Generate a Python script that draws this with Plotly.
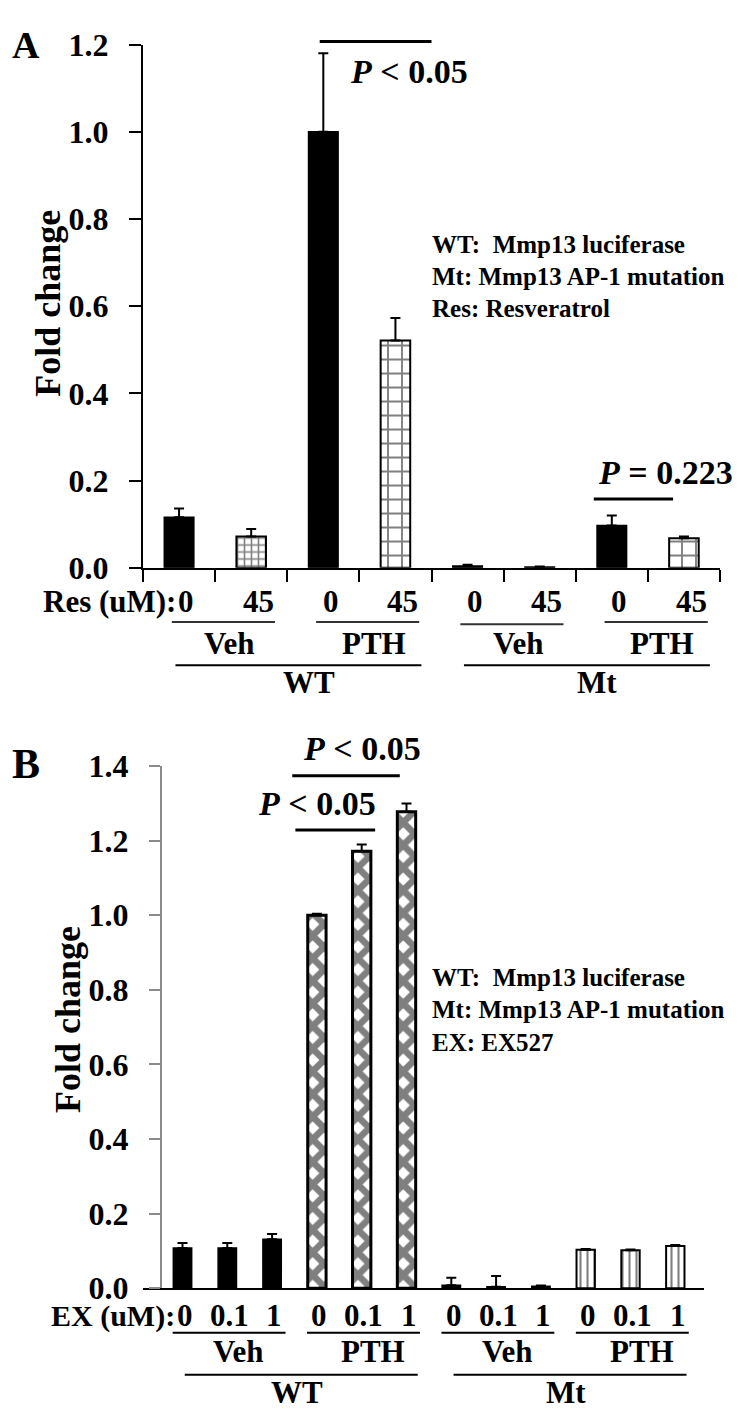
import plotly.graph_objects as go

W, H = 750, 1409
FONT = "Liberation Serif"

# ---------------- data ----------------
# Panel A
a_res = ["0", "45", "0", "45", "0", "45", "0", "45"]
a_vals = [0.116, 0.072, 1.0, 0.521, 0.004, 0.002, 0.097, 0.068]
a_err = [0.020, 0.017, 0.180, 0.052, 0.003, 0.001, 0.023, 0.004]
a_treat = ["Veh", "PTH", "Veh", "PTH"]
a_const = ["WT", "Mt"]
a_yticks = [0.0, 0.2, 0.4, 0.6, 0.8, 1.0, 1.2]
a_legend = ["WT:  Mmp13 luciferase", "Mt: Mmp13 AP-1 mutation", "Res: Resveratrol"]

# Panel B
b_ex = ["0", "0.1", "1", "0", "0.1", "1", "0", "0.1", "1", "0", "0.1", "1"]
b_vals = [0.108, 0.108, 0.131, 1.0, 1.171, 1.277, 0.008, 0.004, 0.005, 0.103, 0.102, 0.113]
b_err = [0.013, 0.013, 0.014, 0.004, 0.018, 0.022, 0.020, 0.029, 0.002, 0.002, 0.002, 0.003]
b_treat = ["Veh", "PTH", "Veh", "PTH"]
b_const = ["WT", "Mt"]
b_yticks = [0.0, 0.2, 0.4, 0.6, 0.8, 1.0, 1.2, 1.4]
b_legend = ["WT:  Mmp13 luciferase", "Mt: Mmp13 AP-1 mutation", "EX: EX527"]


def py(y):
    return 1 - y / H


def pxx(x):
    return x / W


fig = go.Figure()
BW = 0.41

# ---------- Panel A bars ----------
a_styles = ["solid", "grid", "solid", "grid", "solid", "solid", "solid", "grid"]
a_size = [0, 7, 0, 14, 0, 0, 0, 14]
a_sol = [0, 0.4, 0, 0.25, 0, 0, 0, 0.25]
for style in ["solid", "grid"]:
    idx = [i for i, s in enumerate(a_styles) if s == style]
    if style == "solid":
        marker = dict(color="black", line=dict(color="black", width=1.5))
    else:
        marker = dict(color="white", line=dict(color="black", width=2),
                      pattern=dict(shape="+", fgcolor="black", bgcolor="white",
                                   size=[a_size[i] for i in idx],
                                   solidity=[a_sol[i] for i in idx]))
    fig.add_trace(go.Bar(
        x=idx, y=[a_vals[i] for i in idx], width=BW, marker=marker,
        error_y=dict(type="data", symmetric=False, array=[a_err[i] for i in idx],
                     arrayminus=[0] * len(idx), color="black", thickness=2, width=5),
        xaxis="x", yaxis="y", showlegend=False))

# ---------- Panel B bars ----------
b_styles = ["solid"] * 3 + ["diamond"] * 3 + ["solid"] * 3 + ["lines"] * 3
for style in ["solid", "diamond", "lines"]:
    idx = [i for i, s in enumerate(b_styles) if s == style]
    if style == "solid":
        marker = dict(color="black", line=dict(color="black", width=1.5))
    elif style == "diamond":
        marker = dict(color="white", line=dict(color="black", width=3),
                      pattern=dict(shape="x", fgcolor="black", bgcolor="white",
                                   size=16, solidity=0.66))
    else:
        marker = dict(color="white", line=dict(color="black", width=2),
                      pattern=dict(shape="|", fgcolor="black", bgcolor="white",
                                   size=7, solidity=0.3))
    fig.add_trace(go.Bar(
        x=idx, y=[b_vals[i] for i in idx], width=BW, marker=marker,
        error_y=dict(type="data", symmetric=False, array=[b_err[i] for i in idx],
                     arrayminus=[0] * len(idx), color="black", thickness=2, width=5),
        xaxis="x2", yaxis="y2", showlegend=False))

tickfont = dict(family=FONT, size=32, color="black", weight="bold")

fig.update_layout(
    width=W, height=H, margin=dict(l=0, r=0, t=0, b=0),
    paper_bgcolor="white", plot_bgcolor="white", barmode="overlay",
    showlegend=False,
    xaxis=dict(domain=[pxx(135), pxx(712)], range=[-0.5, len(a_vals) - 0.5],
               anchor="y", showline=True, linecolor="black", linewidth=2,
               tickmode="array", tickvals=[i - 0.5 for i in range(len(a_vals) + 1)],
               ticks="outside", ticklen=12, tickwidth=2, tickcolor="black",
               showticklabels=False, showgrid=False, zeroline=False),
    yaxis=dict(domain=[py(556), py(19)], range=[0, 1.2], anchor="x",
               showline=True, linecolor="black", linewidth=2,
               tickmode="array", tickvals=a_yticks, ticktext=[f"{v:.1f}" for v in a_yticks],
               ticks="outside", ticklen=12, tickwidth=2, tickcolor="black",
               tickfont=tickfont, ticklabelstandoff=14,
               showgrid=False, zeroline=False),
    xaxis2=dict(domain=[pxx(135), pxx(696)], range=[(135 - 174.5) / 44.8, (696 - 174.5) / 44.8],
                anchor="y2", showline=True, linecolor="black", linewidth=2,
                ticks="", showticklabels=False, showgrid=False, zeroline=False),
    yaxis2=dict(domain=[py(1295.3), py(759.3)], range=[0, 1.4], anchor="free",
                position=pxx(152.7), showline=True, linecolor="#8a8a8a", linewidth=1.5,
                tickmode="array", tickvals=b_yticks, ticktext=[f"{v:.1f}" for v in b_yticks],
                ticks="outside", ticklen=11, tickwidth=1.5, tickcolor="#8a8a8a",
                tickfont=tickfont, ticklabelstandoff=14,
                showgrid=False, zeroline=False),
)

ann = []
shapes = []


def text(x, y, s, size, xref="paper", xanchor="center", angle=0):
    ann.append(dict(x=x, y=y, xref=xref, yref="paper", text=s, showarrow=False,
                    xanchor=xanchor, yanchor="middle", textangle=angle,
                    font=dict(family=FONT, size=size, color="black", weight="bold")))


def hline(x0, x1, y, xref="paper", width=2.5, color="black"):
    shapes.append(dict(type="line", xref=xref, yref="paper", x0=x0, x1=x1,
                       y0=y, y1=y, line=dict(color=color, width=width)))


# ---- Panel A annotations ----
text(pxx(18), py(20), "A", 38)
text(pxx(40), py(285), "Fold change", 36, angle=-90)
text(pxx(170), py(591), "Res (uM):", 31, xanchor="right")
for i, lab in enumerate(a_res):
    text(i + 0.1, py(591), lab, 31, xref="x")
for g, lab in enumerate(a_treat):
    c0, c1 = 2 * g, 2 * g + 1
    hline(c0 - 0.1, c1 + 0.33, py(614 if g == 2 else 611.5), xref="x", width=2, color="#333")
    text((c0 + c1) / 2 + 0.2, py(634), lab, 31, xref="x")
for g, lab in enumerate(a_const):
    c0, c1 = 4 * g, 4 * g + 3
    hline(c0 - 0.05, c1 + 0.36, py(656), xref="x", width=2)
    text((c0 + c1) / 2 + 0.3, py(674), lab, 31, xref="x")
for k, s in enumerate(a_legend):
    text(pxx(422), py(224 + 33 * k), s, 25, xanchor="left")
# significance A
hline(1.95, 3.5, py(16), xref="x", width=3)
text(2.34, py(47), "<i>P</i> < 0.05", 34, xref="x", xanchor="left")
hline(5.75, 6.85, py(485.3), xref="x", width=3)
text(5.78, py(458), "<i>P</i> = 0.223", 34, xref="x", xanchor="left")

# ---- Panel B annotations ----
text(pxx(18), py(757), "B", 42)
text(pxx(60), py(1020), "Fold change", 36, angle=-90)
text(pxx(169), py(1324), "EX (uM):", 30, xanchor="right")
for i, lab in enumerate(b_ex):
    text(i + 0.05, py(1323), lab, 31, xref="x2")
for g, lab in enumerate(b_treat):
    c0, c1 = 3 * g, 3 * g + 2
    hline(c0 - 0.22, c1 + 0.3, py(1341), xref="x2", width=2)
    text((c0 + c1) / 2 + 0.25, py(1360), lab, 31, xref="x2")
for g, lab in enumerate(b_const):
    c0, c1 = 6 * g, 6 * g + 5
    hline(c0 + 0.05, c1 + 0.25, py(1384), xref="x2", width=2)
    text((c0 + c1) / 2 + 0.05, py(1402), lab, 31, xref="x2")
for k, s in enumerate(b_legend):
    text(pxx(422), py(976 + 33.5 * k), s, 25, xanchor="left")
# significance B
hline(2.45, 4.85, py(769.3), xref="x2", width=3)
text(4.0, py(741), "<i>P</i> < 0.05", 34, xref="x2")
hline(2.52, 4.3, py(825), xref="x2", width=3)
text(3.0, py(798), "<i>P</i> < 0.05", 34, xref="x2")

fig.update_layout(annotations=ann, shapes=shapes)
fig.write_html("out.html")
